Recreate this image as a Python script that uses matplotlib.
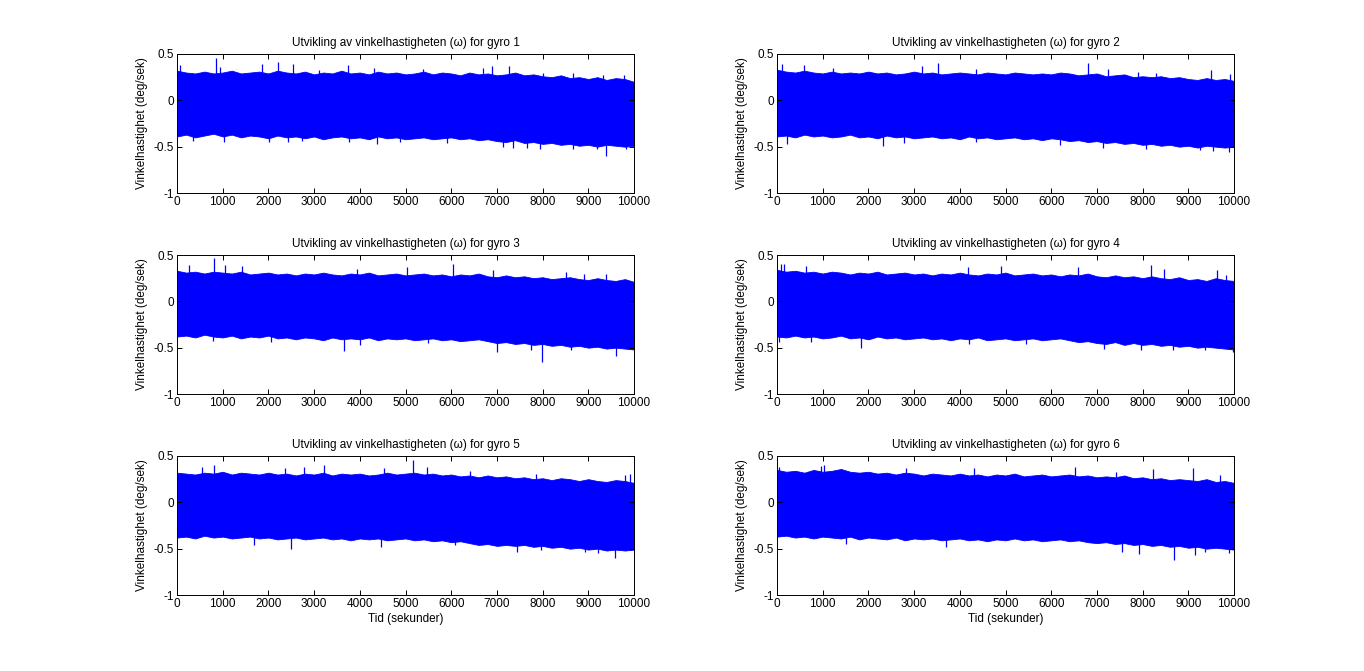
import numpy as np
import matplotlib.pyplot as plt

plt.rcParams.update({
    'font.family': 'Liberation Sans',
    'font.size': 8.5,
})

# ragged upper / lower edge of the band, read every 200 s
t_edge = np.arange(0, 10001, 200)
edge_up = [
    [0.32, 0.30, 0.29, 0.31, 0.29, 0.30, 0.32, 0.29, 0.30, 0.31, 0.29, 0.32, 0.30, 0.29, 0.31, 0.28, 0.30, 0.29, 0.32, 0.29,
     0.30, 0.28, 0.31, 0.29, 0.30, 0.28, 0.29, 0.31, 0.28, 0.30, 0.29, 0.27, 0.30, 0.28, 0.29, 0.27, 0.28, 0.30, 0.27, 0.28,
     0.26, 0.25, 0.27, 0.24, 0.25, 0.23, 0.25, 0.22, 0.24, 0.23, 0.20],
    [0.33, 0.31, 0.30, 0.32, 0.30, 0.29, 0.31, 0.29, 0.30, 0.29, 0.31, 0.29, 0.30, 0.28, 0.29, 0.31, 0.29, 0.30, 0.28, 0.29,
     0.30, 0.29, 0.28, 0.30, 0.29, 0.28, 0.30, 0.29, 0.28, 0.29, 0.28, 0.30, 0.29, 0.27, 0.28, 0.29, 0.26, 0.27, 0.28, 0.25,
     0.26, 0.25, 0.26, 0.24, 0.25, 0.23, 0.22, 0.24, 0.22, 0.23, 0.21],
    [0.33, 0.31, 0.32, 0.30, 0.32, 0.31, 0.30, 0.32, 0.29, 0.30, 0.31, 0.29, 0.30, 0.28, 0.30, 0.29, 0.31, 0.29, 0.28, 0.30,
     0.29, 0.31, 0.28, 0.29, 0.30, 0.28, 0.29, 0.30, 0.28, 0.29, 0.27, 0.29, 0.28, 0.30, 0.27, 0.26, 0.28, 0.26, 0.27, 0.25,
     0.26, 0.24, 0.25, 0.26, 0.24, 0.23, 0.25, 0.23, 0.22, 0.24, 0.21],
    [0.34, 0.32, 0.33, 0.31, 0.32, 0.30, 0.32, 0.31, 0.29, 0.31, 0.30, 0.32, 0.29, 0.30, 0.31, 0.29, 0.30, 0.28, 0.30, 0.29,
     0.31, 0.29, 0.28, 0.30, 0.29, 0.31, 0.28, 0.29, 0.30, 0.28, 0.29, 0.27, 0.29, 0.28, 0.30, 0.27, 0.26, 0.28, 0.26, 0.27,
     0.25, 0.27, 0.25, 0.24, 0.26, 0.23, 0.24, 0.22, 0.25, 0.23, 0.22],
    [0.32, 0.31, 0.30, 0.32, 0.31, 0.33, 0.30, 0.32, 0.31, 0.30, 0.32, 0.30, 0.31, 0.29, 0.31, 0.30, 0.32, 0.29, 0.31, 0.30,
     0.31, 0.29, 0.30, 0.32, 0.30, 0.31, 0.32, 0.30, 0.31, 0.29, 0.30, 0.28, 0.29, 0.27, 0.29, 0.27, 0.28, 0.26, 0.27, 0.25,
     0.26, 0.24, 0.26, 0.25, 0.23, 0.25, 0.23, 0.22, 0.24, 0.23, 0.21],
    [0.35, 0.33, 0.34, 0.32, 0.35, 0.33, 0.34, 0.36, 0.33, 0.32, 0.33, 0.31, 0.32, 0.30, 0.32, 0.31, 0.29, 0.31, 0.30, 0.29,
     0.31, 0.29, 0.30, 0.28, 0.30, 0.29, 0.31, 0.28, 0.29, 0.30, 0.28, 0.29, 0.30, 0.28, 0.29, 0.27, 0.28, 0.27, 0.29, 0.26,
     0.27, 0.25, 0.26, 0.24, 0.25, 0.24, 0.23, 0.25, 0.22, 0.23, 0.21],
]
edge_down = [
    [-0.39, -0.37, -0.40, -0.38, -0.36, -0.39, -0.37, -0.40, -0.38, -0.39, -0.41, -0.38, -0.40, -0.39, -0.41, -0.39, -0.42, -0.40, -0.39, -0.41,
     -0.40, -0.42, -0.39, -0.41, -0.40, -0.42, -0.41, -0.40, -0.42, -0.41, -0.40, -0.42, -0.41, -0.43, -0.42, -0.44, -0.45, -0.43, -0.46, -0.45,
     -0.47, -0.46, -0.48, -0.47, -0.49, -0.48, -0.50, -0.48, -0.49, -0.50, -0.49],
    [-0.39, -0.38, -0.40, -0.37, -0.39, -0.38, -0.40, -0.39, -0.37, -0.40, -0.39, -0.41, -0.38, -0.40, -0.39, -0.41, -0.40, -0.39, -0.41, -0.40,
     -0.42, -0.39, -0.41, -0.40, -0.42, -0.41, -0.40, -0.42, -0.41, -0.43, -0.41, -0.42, -0.44, -0.43, -0.45, -0.44, -0.46, -0.45, -0.47, -0.46,
     -0.48, -0.47, -0.49, -0.48, -0.50, -0.49, -0.51, -0.49, -0.50, -0.51, -0.50],
    [-0.38, -0.37, -0.39, -0.36, -0.38, -0.39, -0.37, -0.40, -0.38, -0.39, -0.37, -0.40, -0.39, -0.41, -0.39, -0.40, -0.42, -0.39, -0.41, -0.40,
     -0.41, -0.39, -0.42, -0.40, -0.41, -0.40, -0.42, -0.41, -0.40, -0.42, -0.41, -0.43, -0.42, -0.41, -0.43, -0.45, -0.44, -0.46, -0.45, -0.47,
     -0.46, -0.48, -0.47, -0.49, -0.48, -0.50, -0.49, -0.51, -0.50, -0.51, -0.52],
    [-0.38, -0.39, -0.37, -0.39, -0.38, -0.40, -0.39, -0.37, -0.40, -0.39, -0.41, -0.38, -0.40, -0.39, -0.41, -0.40, -0.39, -0.41, -0.40, -0.42,
     -0.40, -0.41, -0.39, -0.42, -0.41, -0.40, -0.42, -0.41, -0.40, -0.42, -0.41, -0.40, -0.42, -0.44, -0.43, -0.45, -0.46, -0.44, -0.47, -0.45,
     -0.47, -0.46, -0.48, -0.47, -0.49, -0.48, -0.50, -0.49, -0.50, -0.51, -0.52],
    [-0.38, -0.37, -0.39, -0.36, -0.38, -0.37, -0.39, -0.38, -0.37, -0.39, -0.38, -0.40, -0.39, -0.38, -0.40, -0.39, -0.38, -0.40, -0.39, -0.41,
     -0.39, -0.40, -0.39, -0.41, -0.40, -0.39, -0.41, -0.40, -0.42, -0.41, -0.43, -0.42, -0.44, -0.46, -0.45, -0.47, -0.46, -0.47, -0.46, -0.48,
     -0.47, -0.49, -0.48, -0.50, -0.49, -0.51, -0.50, -0.52, -0.51, -0.52, -0.51],
    [-0.37, -0.36, -0.38, -0.37, -0.39, -0.37, -0.38, -0.39, -0.37, -0.40, -0.38, -0.39, -0.40, -0.38, -0.41, -0.39, -0.40, -0.39, -0.41, -0.40,
     -0.39, -0.41, -0.40, -0.42, -0.40, -0.41, -0.39, -0.41, -0.40, -0.42, -0.41, -0.40, -0.42, -0.41, -0.43, -0.44, -0.43, -0.45, -0.44, -0.46,
     -0.45, -0.47, -0.46, -0.48, -0.47, -0.49, -0.48, -0.50, -0.49, -0.50, -0.51],
]

# single peaks sticking out of the band: (time, value)
spikes_up = [
    [(66, 0.38), (860, 0.457), (940, 0.36), (1866, 0.39), (2216, 0.41), (2544, 0.39), (3105, 0.33), (3747, 0.38), (4308, 0.35),
     (5387, 0.34), (6700, 0.35), (6896, 0.37), (7268, 0.37), (8012, 0.30), (8668, 0.29), (9324, 0.27), (9783, 0.27)],
    [(102, 0.39), (592, 0.38), (1235, 0.35), (3172, 0.37), (3530, 0.40), (4357, 0.34), (6806, 0.40), (7244, 0.34),
     (7902, 0.31), (8304, 0.30), (9488, 0.33), (9912, 0.28)],
    [(270, 0.39), (816, 0.47), (1050, 0.39), (1414, 0.38), (3930, 0.35), (5037, 0.37), (6029, 0.40), (6918, 0.34),
     (8522, 0.32), (8908, 0.30), (9397, 0.30)],
    [(80, 0.40), (154, 0.40), (629, 0.38), (4174, 0.37), (4905, 0.38), (6586, 0.37), (8194, 0.39), (8472, 0.35),
     (9620, 0.34), (9817, 0.28)],
    [(554, 0.38), (816, 0.40), (2362, 0.37), (2785, 0.38), (3222, 0.40), (4534, 0.37), (5169, 0.457), (5460, 0.38),
     (6408, 0.34), (7866, 0.31), (9798, 0.30), (9907, 0.31)],
    [(44, 0.38), (958, 0.39), (1031, 0.40), (2822, 0.37), (4320, 0.37), (6513, 0.38), (7427, 0.33), (8231, 0.36),
     (9108, 0.37), (9693, 0.29)],
]
spikes_down = [
    [(357, -0.44), (1035, -0.45), (2019, -0.45), (2435, -0.45), (2726, -0.44), (3754, -0.45), (4367, -0.47), (4877, -0.45),
     (5898, -0.46), (7137, -0.50), (7356, -0.51), (7662, -0.51), (7939, -0.53), (8668, -0.52), (9193, -0.53), (9382, -0.60), (9834, -0.53)],
    [(227, -0.47), (2310, -0.49), (2785, -0.46), (4357, -0.45), (6184, -0.48), (7135, -0.51), (8085, -0.53), (9254, -0.54),
     (9532, -0.55), (9898, -0.56)],
    [(795, -0.43), (2048, -0.44), (3652, -0.54), (4002, -0.47), (5482, -0.45), (7013, -0.55), (7742, -0.53), (7990, -0.65),
     (8617, -0.53), (9601, -0.59)],
    [(44, -0.44), (753, -0.44), (1835, -0.50), (4196, -0.46), (5453, -0.46), (7149, -0.51), (7961, -0.52), (8670, -0.53),
     (9364, -0.53), (9986, -0.55)],
    [(1691, -0.46), (2486, -0.50), (4461, -0.48), (6094, -0.46), (7450, -0.54), (7975, -0.51), (8923, -0.54), (9214, -0.55),
     (9593, -0.60)],
    [(1506, -0.45), (3699, -0.48), (7559, -0.54), (7924, -0.56), (8692, -0.62), (9145, -0.57), (9364, -0.54), (9898, -0.55)],
]

fig = plt.figure(figsize=(13.64, 6.71), dpi=100)
lefts = [177 / 1364, 777 / 1364]
bottoms = [1 - 193 / 671, 1 - 394 / 671, 1 - 595 / 671]
w, h = 457 / 1364, 139 / 671

for i in range(6):
    row, col = i // 2, i % 2
    ax = fig.add_axes([lefts[col], bottoms[row], w, h])
    ax.fill_between(t_edge, edge_down[i], edge_up[i], color='blue', lw=0.6, edgecolor='blue')
    st, sv = zip(*spikes_up[i])
    ax.vlines(st, 0, sv, color='blue', lw=0.9)
    st, sv = zip(*spikes_down[i])
    ax.vlines(st, sv, 0, color='blue', lw=0.9)
    ax.set_xlim(0, 10000)
    ax.set_ylim(-1, 0.5)
    ax.set_xticks(np.arange(0, 10001, 1000))
    ax.set_yticks([-1, -0.5, 0, 0.5])
    ax.set_yticklabels(['-1', '-0.5', '0', '0.5'])
    ax.tick_params(direction='in', top=True, right=True, length=3.6, width=0.7, pad=2)
    for s in ax.spines.values():
        s.set_linewidth(0.7)
    ax.set_title(f'Utvikling av vinkelhastigheten (ω) for gyro {i + 1}', fontsize=8.5, pad=6)
    ax.set_ylabel('Vinkelhastighet (deg/sek)', labelpad=4)
    if row == 2:
        ax.set_xlabel('Tid (sekunder)', labelpad=2)

fig.savefig('out.png', dpi=100, facecolor='white')
